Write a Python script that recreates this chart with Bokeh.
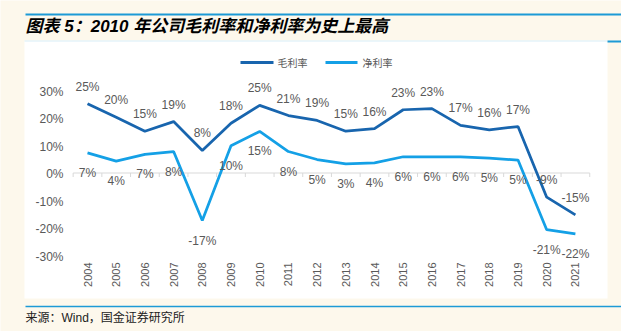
import math
from bokeh.plotting import figure
from bokeh.models import Range1d, ColumnDataSource
from bokeh.core.properties import value
from bokeh.embed import file_html
from bokeh.resources import INLINE

# ---------------- data ----------------
years = ["2004", "2005", "2006", "2007", "2008", "2009", "2010", "2011", "2012",
         "2013", "2014", "2015", "2016", "2017", "2018", "2019", "2020", "2021"]
gross_margin = [25.2, 20.3, 15.2, 18.7, 8.2, 18.1, 24.6, 20.9, 19.1,
                15.2, 16.1, 23.0, 23.4, 17.3, 15.7, 16.9, -8.8, -15.2]
net_margin = [7.3, 4.3, 6.8, 7.8, -17.3, 9.9, 15.1, 7.8, 4.9,
              3.3, 3.7, 5.9, 5.9, 5.9, 5.4, 4.7, -20.6, -22.1]
y_ticks = [-30, -20, -10, 0, 10, 20, 30]
series_names = ["毛利率", "净利率"]
title_text = "图表 5：2010 年公司毛利率和净利率为史上最高"
source_text = "来源：Wind，国金证券研究所"

# ---------------- page geometry (pixels) ----------------
W, H = 621, 331
X0, DX = 87.0, 28.7      # pixel x of first category, spacing
Y0, SY = 172.5, 2.75     # pixel y of 0%, pixels per 1%


def fx(px):
    return (px - X0) / DX


def fy(py):
    return (Y0 - py) / SY


CREAM = "#FDF8EC"
DARK = "#1865AE"
LIGHT = "#14A0E6"
RULE = "#1D9AD6"
GRAY = "#595959"
NUM_FONT = "Liberation Sans, Noto Sans CJK SC"
CJK_FONT = "Noto Sans CJK SC"

p = figure(width=W, height=H, min_border=0, x_axis_location=None, y_axis_location=None,
           toolbar_location=None, output_backend="svg",
           x_range=Range1d(fx(0), fx(W)), y_range=Range1d(fy(H), fy(0)))
p.background_fill_color = CREAM
p.border_fill_color = CREAM
p.outline_line_color = None
p.grid.grid_line_color = None

# white chart panel and decorative rules
p.quad(left=fx(24), right=fx(607), top=fy(40), bottom=fy(298), fill_color="white", line_color=None)
p.segment(x0=[fx(24)], y0=[fy(40.5)], x1=[fx(607)], y1=[fy(40.5)], line_color="#D8EEF8", line_width=1)
p.segment(x0=[fx(25)], y0=[fy(14)], x1=[fx(W)], y1=[fy(14)], line_color=RULE, line_width=2)
p.segment(x0=[fx(607)], y0=[fy(41)], x1=[fx(W)], y1=[fy(41)], line_color=RULE, line_width=2)
p.segment(x0=[fx(25)], y0=[fy(306)], x1=[fx(W)], y1=[fy(306)], line_color=RULE, line_width=1.5)

idx = list(range(len(years)))
n = len(years)

# zero axis line with ticks at category boundaries
p.segment(x0=[-0.5], y0=[0], x1=[n - 0.5], y1=[0], line_color="#D9D9D9", line_width=1)
bounds = [i - 0.5 for i in range(n + 1)]
p.segment(x0=bounds, y0=[0] * len(bounds), x1=bounds, y1=[-4 / SY] * len(bounds),
          line_color="#D9D9D9", line_width=1)

# y tick labels
p.text(x=[fx(63)] * len(y_ticks), y=y_ticks, text=[f"{t}%" for t in y_ticks],
       text_align="right", text_baseline="middle", text_font=value(NUM_FONT),
       text_font_size="12px", text_color=GRAY, y_offset=1)

# x tick labels (vertical)
p.text(x=idx, y=[fy(262)] * n, text=years, angle=math.pi / 2,
       text_align="right", text_baseline="middle", text_font=value(NUM_FONT),
       text_font_size="11px", text_color=GRAY)

# series lines
p.line(idx, gross_margin, line_color=DARK, line_width=2.75)
p.line(idx, net_margin, line_color=LIGHT, line_width=2.75)

# data labels
gsrc = ColumnDataSource(dict(x=idx, y=gross_margin, t=[f"{round(v)}%" for v in gross_margin]))
nsrc = ColumnDataSource(dict(x=idx, y=net_margin, t=[f"{round(v)}%" for v in net_margin]))
p.text(x="x", y="y", text="t", source=gsrc, y_offset=-17, text_align="center",
       text_baseline="middle", text_font=value(NUM_FONT), text_font_size="12px", text_color=GRAY)
p.text(x="x", y="y", text="t", source=nsrc, y_offset=20, text_align="center",
       text_baseline="middle", text_font=value(NUM_FONT), text_font_size="12px", text_color=GRAY)

# legend
p.segment(x0=[fx(240), fx(325)], y0=[fy(62), fy(62)], x1=[fx(273), fx(357)], y1=[fy(62), fy(62)],
          line_color=[DARK, LIGHT], line_width=3)
p.text(x=[fx(277), fx(362)], y=[fy(62), fy(62)], text=series_names, text_align="left",
       text_baseline="middle", text_font=value(CJK_FONT), text_font_size="10px", text_color=GRAY)

# title and source
p.text(x=[fx(25)], y=[fy(26)], text=[title_text], text_align="left", text_baseline="middle",
       text_font=value(NUM_FONT), text_font_size="17px", text_font_style="bold italic",
       text_color="#000000")
p.text(x=[fx(25)], y=[fy(317)], text=[source_text], text_align="left", text_baseline="middle",
       text_font=value(NUM_FONT), text_font_size="12px", text_color="#222222")

open("out.html", "w").write(file_html(p, INLINE))
